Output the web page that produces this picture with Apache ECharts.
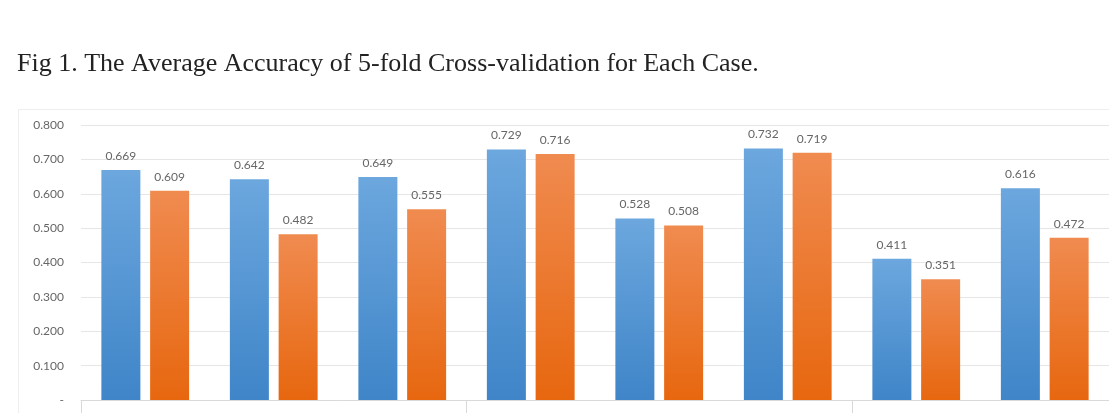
<!DOCTYPE html>
<html>
<head>
<meta charset="utf-8">
<script src="https://cdn.jsdelivr.net/npm/echarts@6/dist/echarts.min.js"></script>
<style>
  html, body { margin: 0; padding: 0; background: #fff; }
  #chart { width: 1109px; height: 413px; }
</style>
</head>
<body>
<div id="chart"></div>
<script>
// case labels sit below the crop, so they are kept but not drawn
var categories = ['Case 1', 'Case 2', 'Case 3', 'Case 4', 'Case 5', 'Case 6', 'Case 7', 'Case 8'];
var blueValues = [0.669, 0.642, 0.649, 0.729, 0.528, 0.732, 0.411, 0.616];
var orangeValues = [0.609, 0.482, 0.555, 0.716, 0.508, 0.719, 0.351, 0.472];
var groupStarts = [0, 3, 6]; // separators between the case groups
var titleText = 'Fig 1. The Average Accuracy of 5-fold Cross-validation for Each Case.';

var chart = echarts.init(document.getElementById('chart'));

function grad(top, bottom) {
  return new echarts.graphic.LinearGradient(0, 0, 0, 1, [
    { offset: 0, color: top },
    { offset: 1, color: bottom }
  ]);
}

var labelStyle = {
  show: true,
  position: 'top',
  distance: 8,
  color: '#666',
  fontFamily: 'Lato',
  fontSize: 12,
  formatter: function (p) { return p.value.toFixed(3); }
};

var option = {
  animation: false,
  title: {
    text: titleText,
    left: 12,
    top: 46,
    textStyle: {
      fontFamily: 'Liberation Serif',
      fontWeight: 'normal',
      fontSize: 26,
      color: '#222'
    }
  },
  graphic: [{
    type: 'rect',
    left: 16,
    top: 107,
    shape: { width: 1110, height: 330 },
    style: { fill: 'none', stroke: '#eeeeee', lineWidth: 1 },
    silent: true,
    z: -1
  }],
  grid: {
    left: 81,
    right: 0,
    top: 125,
    bottom: 13
  },
  xAxis: {
    type: 'category',
    data: categories,
    axisLine: { show: true, lineStyle: { color: '#d9d9d9' } },
    axisTick: {
      show: true,
      length: 20,
      interval: function (index) { return groupStarts.indexOf(index) >= 0; },
      lineStyle: { color: '#d9d9d9' }
    },
    axisLabel: { show: false }
  },
  yAxis: {
    type: 'value',
    min: 0,
    max: 0.8,
    interval: 0.1,
    axisLine: { show: false },
    axisTick: { show: false },
    splitLine: { lineStyle: { color: '#e6e6e6' } },
    axisLabel: {
      margin: 17,
      color: '#666',
      fontFamily: 'Lato',
      fontSize: 12,
      formatter: function (v) { return v === 0 ? '-' : v.toFixed(3); }
    }
  },
  series: [{
    name: 'Series 1',
    type: 'bar',
    barWidth: 39,
    barGap: '25%',
    itemStyle: { color: grad('#6ca7de', '#3f85c8') },
    label: labelStyle,
    data: blueValues
  }, {
    name: 'Series 2',
    type: 'bar',
    barWidth: 39,
    itemStyle: { color: grad('#f08b50', '#e7670f') },
    label: labelStyle,
    data: orangeValues
  }]
};

chart.setOption(option);
</script>
</body>
</html>
